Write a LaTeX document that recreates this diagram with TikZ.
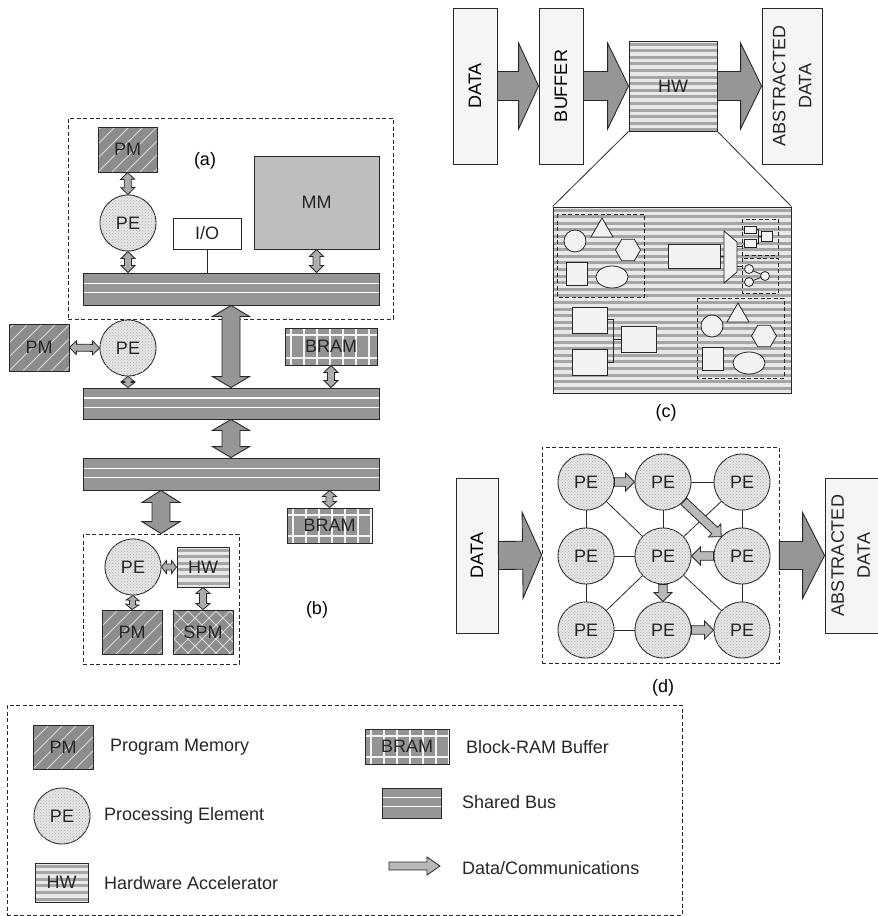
\documentclass[tikz,border=0pt]{standalone}
\usepackage{fontspec}
\setmainfont{Liberation Sans}
\usetikzlibrary{calc,patterns}
\definecolor{linec}{RGB}{40,40,40}
\definecolor{pmgray}{RGB}{140,140,140}
\definecolor{bramgray}{RGB}{148,148,148}
\definecolor{busgray}{RGB}{150,150,150}
\definecolor{mmgray}{RGB}{190,190,190}
\definecolor{pefill}{RGB}{230,230,230}
\definecolor{pedot}{RGB}{175,175,175}
\definecolor{hwlight}{RGB}{232,232,232}
\definecolor{hwdark}{RGB}{165,165,165}
\definecolor{bigarrgray}{RGB}{150,150,150}
\definecolor{smarrgray}{RGB}{172,172,172}
\definecolor{darrgray}{RGB}{185,185,185}
\definecolor{innerfill}{RGB}{242,242,242}
\definecolor{datafill}{RGB}{245,245,245}
\newcommand\figfont{\fontsize{18}{21}\selectfont}
\newcommand\figfontb{\fontsize{18}{26}\selectfont}
% double-headed block arrow: [style]{A}{B}{half shaft}{half head}{head length}
\newcommand\dblarr[6][]{%
  \coordinate (tA) at ($(#2)!#6!(#3)$);
  \coordinate (tB) at ($(#3)!#6!(#2)$);
  \draw[#1] (#2) -- ($(tA)!#5!90:(#3)$) -- ($(tA)!#4!90:(#3)$) -- ($(tB)!#4!-90:(#2)$) -- ($(tB)!#5!-90:(#2)$) -- (#3) -- ($(tB)!#5!90:(#2)$) -- ($(tB)!#4!90:(#2)$) -- ($(tA)!#4!-90:(#3)$) -- ($(tA)!#5!-90:(#3)$) -- cycle;}
% single-headed block arrow: [style]{tail}{tip}{half shaft}{half head}{head length}
\newcommand\sarr[6][]{%
  \coordinate (tB) at ($(#3)!#6!(#2)$);
  \draw[#1] ($(#2)!#4!90:(#3)$) -- ($(tB)!#4!-90:(#2)$) -- ($(tB)!#5!-90:(#2)$) -- (#3) -- ($(tB)!#5!90:(#2)$) -- ($(tB)!#4!90:(#2)$) -- ($(#2)!#4!-90:(#3)$) -- cycle;}
\begin{document}
\begin{tikzpicture}[x=1pt,y=-1pt,font=\figfont,line join=miter,
  box/.style={draw=linec,line width=0.9pt,inner sep=0pt,text=black!85},
  dbox/.style={draw=linec,line width=0.8pt,dash pattern=on 4pt off 2.5pt,inner sep=0pt},
  pm/.style={box,fill=pmgray,path picture={
     \foreach \k in {-8,...,10}{\draw[white!70!gray,line width=0.9pt] ([xshift=\k*14pt]path picture bounding box.south west) -- ++(80pt,80pt);}}},
  spm/.style={box,fill=pmgray,path picture={
     \foreach \k in {-8,...,10}{\draw[white!70!gray,line width=0.9pt] ([xshift=\k*14pt]path picture bounding box.south west) -- ++(80pt,80pt);
       \draw[white!70!gray,line width=0.9pt] ([xshift=\k*14pt]path picture bounding box.north west) -- ++(80pt,-80pt);}}},
  pe/.style={box,circle,minimum size=56pt,fill=pefill,postaction={pattern=crosshatch dots,pattern color=pedot}},
  hw/.style={box,fill=hwlight,path picture={
     \foreach \k in {0,...,30}{\fill[hwdark] ([yshift={-1.5pt-\k*6.6pt}]path picture bounding box.north west) rectangle ++(300pt,-3pt);}}},
  bram/.style={box,fill=bramgray,path picture={
     \foreach \k in {0,...,8}{\draw[white!92!gray,line width=1.1pt] ([xshift={6pt+\k*13pt}]path picture bounding box.north west) -- ++(0pt,-60pt);}
     \draw[white!92!gray,line width=1.1pt] ([yshift=-7pt]path picture bounding box.north west) -- ++(150pt,0pt);
     \draw[white!92!gray,line width=1.1pt] ([yshift=7pt]path picture bounding box.south west) -- ++(150pt,0pt);}},
  bus/.style={box,fill=busgray,path picture={
     \draw[white,line width=1.2pt] ($(path picture bounding box.north west)!0.32!(path picture bounding box.south west)$) -- ($(path picture bounding box.north east)!0.32!(path picture bounding box.south east)$);
     \draw[white,line width=1.2pt] ($(path picture bounding box.north west)!0.62!(path picture bounding box.south west)$) -- ($(path picture bounding box.north east)!0.62!(path picture bounding box.south east)$);}},
  databox/.style={box,fill=datafill},
  bigarr/.style={draw=linec,line width=0.9pt,fill=bigarrgray},
  smarr/.style={draw=linec,line width=0.8pt,fill=smarrgray},
  darr/.style={draw=linec,line width=0.8pt,fill=darrgray},
  conn/.style={draw=linec,line width=0.8pt},
  inner/.style={draw=linec,line width=0.8pt,fill=innerfill},
  legtext/.style={anchor=west,inner sep=0pt,text=black!85}]
\useasboundingbox (0,0) rectangle (878,916);

% ---------------- panel (a) ----------------
\node[dbox,minimum width=325pt,minimum height=201pt] (boxa) at (230.5,218.5) {};
\node[pm,minimum width=59pt,minimum height=45pt] (pmA) at (127.5,149.5) {PM};
\node[pe] (peA) at (128,223) {PE};
\node[box,fill=white,minimum width=68pt,minimum height=31pt] (ioA) at (207,233.5) {I/O};
\node[box,fill=mmgray,minimum width=125pt,minimum height=93pt] (mmA) at (316.5,202.5) {MM};
\node[bus,minimum width=296pt,minimum height=32pt] (busA) at (231,289) {};
\node (labA) at (205,161) {(a)};
\coordinate (a1) at (peA.south |- busA.north);
\coordinate (a2) at (mmA.south |- busA.north);
\dblarr[smarr]{pmA.south}{peA.north}{3.5pt}{7pt}{7pt}
\dblarr[smarr]{peA.south}{a1}{3.5pt}{7pt}{7pt}
\dblarr[smarr]{mmA.south}{a2}{3.5pt}{7pt}{7pt}
\draw[conn] (ioA.south) -- (ioA.south |- busA.north);

% ---------------- panel (b) ----------------
\node[pm,minimum width=60pt,minimum height=47pt] (pmB) at (39,347.5) {PM};
\node[pe] (peB) at (128,348) {PE};
\node[bram,minimum width=92pt,minimum height=37pt] (bramB1) at (331,346.5) {BRAM};
\node[bus,minimum width=296pt,minimum height=31pt] (busB1) at (231,403.5) {};
\node[bus,minimum width=296pt,minimum height=32pt] (busB2) at (231,474) {};
\node[bram,minimum width=85pt,minimum height=35pt] (bramB2) at (329.5,525.5) {BRAM};
\node[dbox,minimum width=156pt,minimum height=130pt] (boxb) at (161,599) {};
\node[pe] (peC) at (133,567) {PE};
\node[hw,minimum width=52pt,minimum height=40pt] (hwB) at (203,567) {HW};
\node[pm,minimum width=60pt,minimum height=44pt] (pmC) at (132,632) {PM};
\node[spm,minimum width=60pt,minimum height=44pt] (spmC) at (203,632) {SPM};
\node (labB) at (317,610) {(b)};

\dblarr[bigarr]{busA.south}{busB1.north}{9pt}{18.5pt}{11pt}
\dblarr[bigarr]{busB1.south}{busB2.north}{9pt}{18.5pt}{11pt}
\coordinate (bb1) at ([xshift=-70pt]busB2.south);
\coordinate (bb2) at (bb1 |- boxb.north);
\dblarr[bigarr]{bb1}{bb2}{9pt}{19pt}{12pt}
\dblarr[smarr]{pmB.east}{peB.west}{3.5pt}{7pt}{7pt}
\coordinate (b1) at (peB.south |- busB1.north);
\dblarr[smarr]{peB.south}{b1}{3pt}{6.5pt}{5pt}
\coordinate (b2) at (bramB1.south |- busB1.north);
\dblarr[smarr]{bramB1.south}{b2}{3.5pt}{7pt}{7pt}
\coordinate (b3) at (bramB2.north |- busB2.south);
\dblarr[smarr]{b3}{bramB2.north}{3.5pt}{7pt}{6pt}
\dblarr[smarr]{peC.east}{hwB.west}{3pt}{6.5pt}{5pt}
\dblarr[smarr]{peC.south}{pmC.north}{3pt}{6.5pt}{5pt}
\dblarr[smarr]{hwB.south}{spmC.north}{3.5pt}{7pt}{6pt}

% ---------------- panel (c) ----------------
\node[databox,minimum width=44pt,minimum height=156pt] (dataC) at (475,86) {};
\node[rotate=90] at (dataC.center) {DATA};
\node[databox,minimum width=44pt,minimum height=156pt] (bufC) at (561,86) {};
\node[rotate=90] at (bufC.center) {BUFFER};
\node[hw,minimum width=88pt,minimum height=90pt] (hwC) at (673,86) {HW};
\node[databox,minimum width=60pt,minimum height=156pt] (absC) at (792,86) {};
\node[rotate=90,align=center,font=\figfontb,text=black!85] at (absC.center) {ABSTRACTED\\DATA};
\sarr[bigarr]{dataC.east}{bufC.west}{14.5pt}{43pt}{20pt}
\sarr[bigarr]{bufC.east}{hwC.west}{14.5pt}{43pt}{21pt}
\sarr[bigarr]{hwC.east}{absC.west}{14.5pt}{43pt}{21pt}
\node[hw,minimum width=238pt,minimum height=186pt] (bigC) at (672,300) {};
\draw[conn] (hwC.south west) -- (bigC.north west);
\draw[conn] (hwC.south east) -- (bigC.north east);
\node (labC) at (666,413) {(c)};
% inner contents
\draw[dbox] (557,214) rectangle (644,297);
\draw[inner] (575,241) circle[radius=11];
\draw[inner] (602,218) -- (613,237) -- (591,237) -- cycle;
\draw[inner] (640.5,250) -- (634.25,260.8) -- (621.75,260.8) -- (615.5,250) -- (621.75,239.2) -- (634.25,239.2) -- cycle;
\draw[inner] (566,262) rectangle (587,285);
\draw[inner] (612,277) ellipse[x radius=16,y radius=11];
\draw[inner] (668,244) rectangle (720,268);
\draw[conn] (720,256) -- (724,256);
\draw[inner] (724,231) -- (737,242) -- (737,272) -- (724,283) -- cycle;
\draw[dbox] (742,219) rectangle (778,255);
\draw[dbox] (742,258) rectangle (778,293);
\draw[conn] (737,246) -- (742,246);
\draw[conn] (737,266) -- (742,266);
\draw[conn] (756,229.5) -- (758.5,229.5) -- (758.5,243) -- (756,243);
\draw[conn] (758.5,236) -- (761,236);
\draw[inner] (744,226) rectangle (756,233);
\draw[inner] (744,239) rectangle (756,247);
\draw[inner] (761,231) rectangle (772,241);
\draw[conn] (749,269) -- (765,276) -- (749,282);
\draw[inner] (749,269) circle[radius=4.5];
\draw[inner] (749,282) circle[radius=4.5];
\draw[inner] (765,276) circle[radius=4.5];
\draw[conn] (607,319) -- (613,319) -- (613,362) -- (607,362);
\draw[conn] (613,339) -- (621,339);
\draw[inner] (572,307) rectangle (607,333);
\draw[inner] (572,349) rectangle (607,375);
\draw[inner] (621,326) rectangle (656,352);
\draw[dbox] (697,298) rectangle (784,378);
\draw[inner] (712,326) circle[radius=11];
\draw[inner] (738,303) -- (749,322) -- (727,322) -- cycle;
\draw[inner] (776.5,336) -- (770.25,346.8) -- (757.75,346.8) -- (751.5,336) -- (757.75,325.2) -- (770.25,325.2) -- cycle;
\draw[inner] (702,347) rectangle (723,370);
\draw[inner] (749,363) ellipse[x radius=16,y radius=11];

% ---------------- panel (d) ----------------
\node[databox,minimum width=42pt,minimum height=155pt] (dataD) at (477,555.5) {};
\node[rotate=90] at (dataD.center) {DATA};
\node[dbox,minimum width=237pt,minimum height=216pt] (boxd) at (660.5,555) {};
\node[databox,minimum width=55pt,minimum height=155pt] (absD) at (852.5,555.5) {};
\node[rotate=90,align=center,font=\figfontb,text=black!85] at (850.5,555.5) {ABSTRACTED\\DATA};
\sarr[bigarr]{dataD.east}{boxd.west}{14pt}{43pt}{19pt}
\coordinate (od) at (boxd.east |- absD.west);
\sarr[bigarr]{od}{absD.west}{14pt}{43pt}{22pt}
\foreach \c/\x in {1/586,2/663,3/742}{
  \foreach \r/\y in {1/482,2/556,3/630}{
    \node[pe] (p\r\c) at (\x,\y) {PE};
  }}
\draw[conn] (p12) -- (p13);
\draw[conn] (p21) -- (p22);
\draw[conn] (p31) -- (p32);
\draw[conn] (p11) -- (p21);
\draw[conn] (p21) -- (p31);
\draw[conn] (p12) -- (p22);
\draw[conn] (p13) -- (p23);
\draw[conn] (p23) -- (p33);
\draw[conn] (p11) -- (p22);
\draw[conn] (p13) -- (p22);
\draw[conn] (p22) -- (p31);
\draw[conn] (p22) -- (p33);
\sarr[darr]{p11.east}{p12.west}{4.3pt}{9pt}{9pt}
\sarr[darr]{p12.-43}{p23.137}{4.3pt}{9pt}{9pt}
\sarr[darr]{p23.west}{p22.east}{4.3pt}{9pt}{9pt}
\sarr[darr]{p22.south}{p32.north}{4.3pt}{9pt}{9pt}
\sarr[darr]{p32.east}{p33.west}{4.3pt}{9pt}{9pt}
\node (labD) at (663,688) {(d)};

% ---------------- legend ----------------
\node[dbox,minimum width=675pt,minimum height=210pt] (legend) at (344.5,810) {};
\node[pm,minimum width=60pt,minimum height=44pt] (lpm) at (63,747) {PM};
\node[legtext] (tpm) at (110,747) {Program Memory};
\node[pe] (lpe) at (62,816) {PE};
\node[legtext] (tpe) at (104,816) {Processing Element};
\node[hw,minimum width=53pt,minimum height=39pt] (lhw) at (61.5,882.5) {HW};
\node[legtext] (thw) at (104,883) {Hardware Accelerator};
\node[bram,minimum width=84pt,minimum height=35pt] (lbram) at (407,746.5) {BRAM};
\node[legtext] (tbram) at (466,747) {Block-RAM Buffer};
\node[bus,minimum width=59pt,minimum height=30pt] (lbus) at (411.5,803) {};
\node[legtext] (tbus) at (462,802) {Shared Bus};
\coordinate (la1) at (389,866);
\coordinate (la2) at (440,866);
\sarr[darr]{la1}{la2}{4pt}{9pt}{13pt}
\node[legtext] (tarr) at (462,868) {Data/Communications};
\end{tikzpicture}
\end{document}
